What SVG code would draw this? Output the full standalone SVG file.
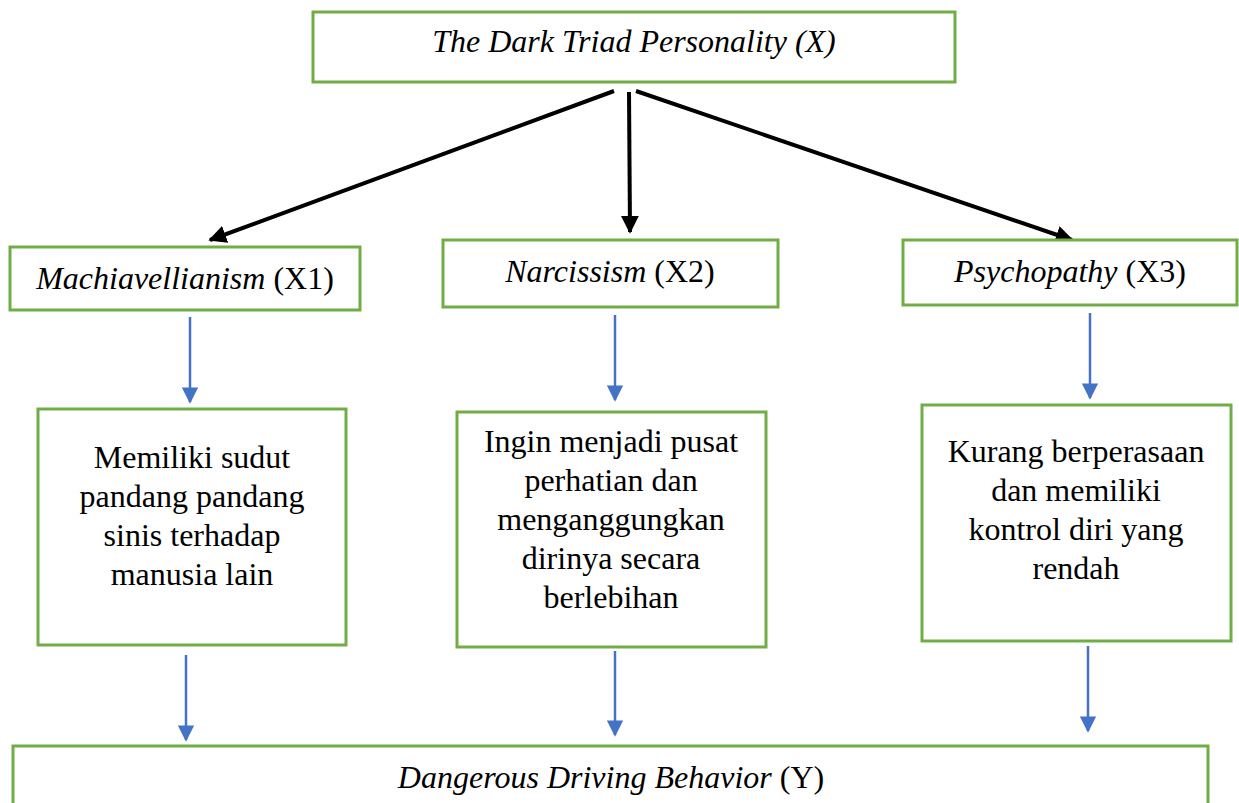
<svg xmlns="http://www.w3.org/2000/svg" width="1239" height="803" viewBox="0 0 1239 803">
<style>
.box{fill:#fff;stroke:#70AD47;stroke-width:3}
.t{font-family:"Liberation Serif","Times New Roman",serif;font-size:32px;fill:#000;text-anchor:middle}
.i{font-style:italic}
.blk{stroke:#000;stroke-width:4;fill:none}
.blu{stroke:#4472C4;stroke-width:2.5;fill:none}
</style>
<defs>
<marker id="ab" viewBox="0 0 10 10" refX="9" refY="5" markerWidth="4.5" markerHeight="4.5" orient="auto" markerUnits="strokeWidth"><path d="M0,0 L10,5 L0,10 z" fill="#000"/></marker>
<marker id="au" viewBox="0 0 10 10" refX="9" refY="5" markerWidth="6.5" markerHeight="6.5" orient="auto" markerUnits="strokeWidth"><path d="M0,0 L10,5 L0,10 z" fill="#4472C4"/></marker>
</defs>
<rect width="1239" height="803" fill="#fff"/>
<g id="connectors">
<line class="blk" x1="614" y1="91" x2="210" y2="240" marker-end="url(#ab)"/>
<line class="blk" x1="629" y1="92" x2="630" y2="232" marker-end="url(#ab)"/>
<line class="blk" x1="636" y1="91" x2="1072" y2="240" marker-end="url(#ab)"/>
<line class="blu" x1="190" y1="317" x2="190" y2="402" marker-end="url(#au)"/>
<line class="blu" x1="615" y1="315" x2="615" y2="400" marker-end="url(#au)"/>
<line class="blu" x1="1090" y1="313" x2="1090" y2="398" marker-end="url(#au)"/>
<line class="blu" x1="186" y1="655" x2="186" y2="740" marker-end="url(#au)"/>
<line class="blu" x1="615" y1="651" x2="615" y2="735" marker-end="url(#au)"/>
<line class="blu" x1="1088" y1="646" x2="1088" y2="731" marker-end="url(#au)"/>
</g>
<g id="x">
<rect class="box" x="313" y="12" width="642" height="70"/>
<text class="t i" x="634" y="52">The Dark Triad Personality (X)</text>
</g>
<g id="x1">
<rect class="box" x="10" y="247" width="350" height="63"/>
<text class="t" x="185" y="289"><tspan font-style="italic">Machiavellianism</tspan> (X1)</text>
</g>
<g id="x2">
<rect class="box" x="443" y="240" width="335" height="67"/>
<text class="t" x="610" y="282"><tspan font-style="italic">Narcissism</tspan> (X2)</text>
</g>
<g id="x3">
<rect class="box" x="903" y="240" width="334" height="65"/>
<text class="t" x="1070" y="282"><tspan font-style="italic">Psychopathy</tspan> (X3)</text>
</g>
<g id="d1">
<rect class="box" x="38" y="409" width="308" height="236"/>
<text class="t" x="192"><tspan x="192" y="468">Memiliki sudut</tspan><tspan x="192" y="507">pandang pandang</tspan><tspan x="192" y="546">sinis terhadap</tspan><tspan x="192" y="585">manusia lain</tspan></text>
</g>
<g id="d2">
<rect class="box" x="457" y="412" width="309" height="235"/>
<text class="t" x="611"><tspan x="611" y="452">Ingin menjadi pusat</tspan><tspan x="611" y="491">perhatian dan</tspan><tspan x="611" y="530">menganggungkan</tspan><tspan x="611" y="569">dirinya secara</tspan><tspan x="611" y="608">berlebihan</tspan></text>
</g>
<g id="d3">
<rect class="box" x="922" y="405" width="309" height="236"/>
<text class="t" x="1076"><tspan x="1076" y="462">Kurang berperasaan</tspan><tspan x="1076" y="501">dan memiliki</tspan><tspan x="1076" y="540">kontrol diri yang</tspan><tspan x="1076" y="579">rendah</tspan></text>
</g>
<g id="y">
<rect class="box" x="13" y="746" width="1195" height="70"/>
<text class="t" x="611" y="788"><tspan font-style="italic">Dangerous Driving Behavior</tspan> (Y)</text>
</g>
</svg>
